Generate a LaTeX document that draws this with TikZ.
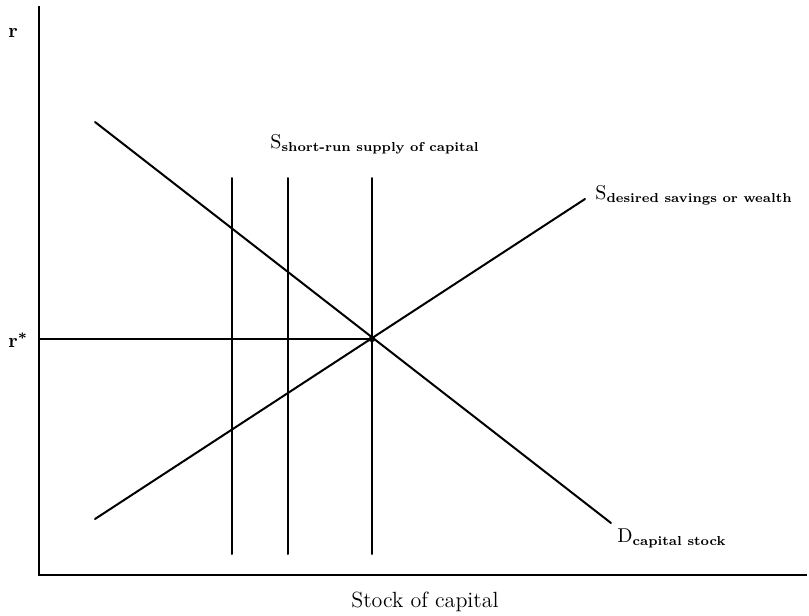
\documentclass[tikz,border=0pt]{standalone}
\usepackage{amsmath}
\usepackage{tikz}
\usetikzlibrary{positioning}

\newcommand{\subtxt}[1]{\text{\fontsize{6.5}{7}\selectfont\bfseries #1}}

\begin{document}
\begin{tikzpicture}[
  x=0.5pt, y=-0.5pt,
  curve/.style={line width=1pt, draw=black, line cap=round},
  lbl/.style={inner sep=0pt, anchor=base west},
  axislbl/.style={inner sep=0pt, anchor=base, font=\fontsize{11}{13}\selectfont}
]
\useasboundingbox (0,0) rectangle (809,616);

% axes
\coordinate (ytop) at (39,6);
\coordinate (origin) at (39,575);
\coordinate (xend) at (807,575);
\draw[curve, line cap=butt] (ytop) -- (origin) -- (xend);

% equilibrium
\coordinate (eq) at (372,339);
\coordinate (rstar) at (39,339);

% demand and desired savings
\coordinate (dstart) at (95,122);
\coordinate (dend) at (611,523);
\coordinate (sstart) at (95,519);
\coordinate (send) at (585,199);
\draw[curve] (dstart) -- (dend);
\draw[curve] (sstart) -- (send);
\draw[curve] (rstar) -- (eq);

% short-run supply
\foreach \xk [count=\i] in {232,288,372}{
  \coordinate (srtop\i) at (\xk,178);
  \coordinate (srbot\i) at (\xk,554);
  \draw[curve] (srtop\i) -- (srbot\i);
}
\fill (eq) circle (3.2);

% labels
\node[lbl] (rlbl) at (8,37) {\textbf{r}};
\node[lbl] (rstarlbl) at (8,347) {\textbf{r}$^{\boldsymbol{*}}$};
\node[lbl] (srlbl) at (270,148) {S$_{\subtxt{short-run supply of capital}}$};
\node[lbl] (savlbl) at (595,199) {S$_{\subtxt{desired savings or wealth}}$};
\node[lbl] (dlbl) at (617,542) {D$_{\subtxt{capital stock}}$};
\node[axislbl] (xlbl) at (425,607) {Stock of capital};
\end{tikzpicture}
\end{document}
